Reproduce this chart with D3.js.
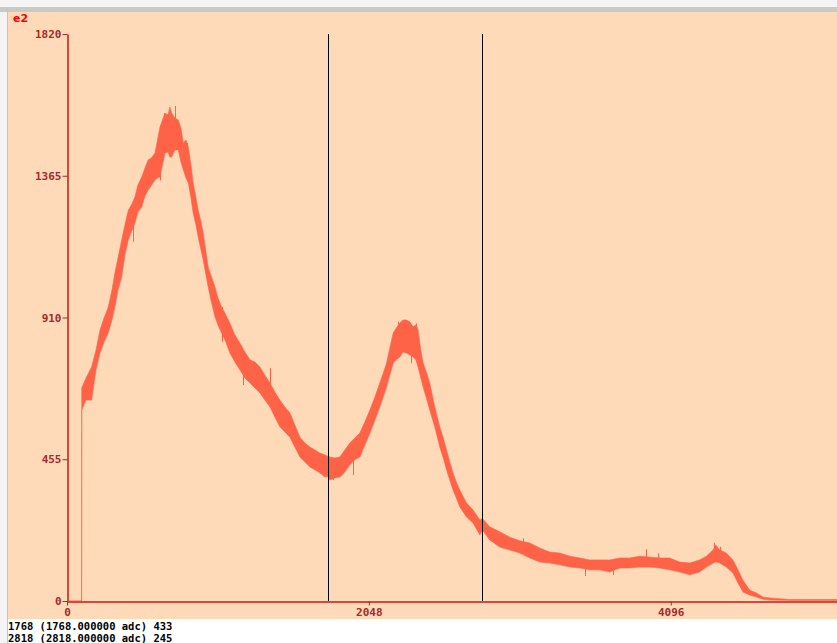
<!DOCTYPE html>
<html>
<head>
<meta charset="utf-8">
<script src="https://cdn.jsdelivr.net/npm/d3@7"></script>
<style>
  body { margin: 0; background: #ffffff; }
  svg { display: block; }
</style>
</head>
<body>
<script>
// Spectrum: ADC channel vs. counts (upper / lower edge of the noisy histogram band)
const bins = [0, 99, 100, 129, 167, 197, 224, 251, 280, 305, 325, 346, 371, 393, 416, 437, 461, 481, 507, 529, 551, 573, 597, 614, 631, 648, 665, 685, 698, 710, 732, 755, 773, 789, 807, 823, 841, 856, 875, 890, 909, 924, 943, 958, 976, 1004, 1024, 1049, 1078, 1105, 1139, 1173, 1207, 1241, 1275, 1309, 1343, 1377, 1410, 1444, 1478, 1512, 1546, 1580, 1614, 1648, 1682, 1716, 1750, 1768, 1783, 1817, 1851, 1885, 1919, 1953, 1987, 2021, 2055, 2089, 2122, 2146, 2168, 2190, 2213, 2234, 2258, 2278, 2303, 2326, 2348, 2367, 2382, 2400, 2416, 2438, 2461, 2495, 2529, 2553, 2575, 2597, 2619, 2641, 2665, 2710, 2755, 2801, 2818, 2868, 2936, 3004, 3072, 3140, 3207, 3275, 3343, 3411, 3479, 3546, 3614, 3682, 3750, 3818, 3886, 3953, 4021, 4089, 4157, 4225, 4292, 4338, 4383, 4401, 4428, 4473, 4518, 4552, 4586, 4631, 4677, 4722, 4767, 4903, 5224];
const countHi = [0, 0, 684, 716, 751, 806, 870, 908, 944, 998, 1053, 1101, 1159, 1207, 1255, 1271, 1297, 1335, 1361, 1390, 1416, 1422, 1438, 1480, 1522, 1544, 1566, 1560, 1586, 1566, 1550, 1544, 1518, 1470, 1480, 1457, 1400, 1342, 1294, 1255, 1217, 1181, 1120, 1072, 1046, 1008, 973, 944, 918, 892, 854, 828, 799, 774, 767, 751, 725, 700, 671, 645, 623, 604, 565, 526, 507, 494, 485, 475, 469, 465, 462, 459, 462, 485, 507, 523, 539, 575, 613, 655, 700, 732, 764, 812, 860, 876, 892, 902, 902, 896, 880, 886, 870, 806, 764, 735, 700, 623, 559, 523, 485, 446, 411, 382, 356, 315, 292, 260, 265, 238, 222, 205, 193, 186, 170, 157, 154, 144, 138, 132, 132, 132, 138, 138, 144, 141, 138, 138, 125, 122, 132, 144, 164, 180, 164, 154, 132, 100, 67, 35, 26, 13, 10, 5, 5];
const countLo = [0, 0, 613, 645, 645, 742, 796, 831, 860, 902, 944, 998, 1040, 1111, 1159, 1185, 1213, 1249, 1265, 1300, 1319, 1335, 1351, 1358, 1361, 1400, 1438, 1441, 1425, 1425, 1448, 1448, 1409, 1384, 1358, 1342, 1294, 1245, 1207, 1168, 1127, 1095, 1046, 1008, 966, 912, 886, 860, 831, 796, 767, 742, 716, 700, 684, 668, 645, 623, 591, 559, 543, 526, 494, 462, 446, 430, 421, 411, 398, 400, 388, 395, 398, 414, 437, 453, 462, 501, 539, 581, 623, 655, 687, 725, 764, 774, 783, 799, 796, 790, 783, 774, 751, 716, 687, 652, 613, 559, 494, 459, 421, 388, 356, 331, 302, 270, 250, 212, 228, 196, 173, 164, 154, 138, 125, 122, 116, 109, 106, 100, 100, 93, 106, 106, 109, 109, 106, 100, 93, 84, 93, 109, 122, 125, 122, 109, 90, 58, 29, 19, 13, 6, 3, 2, 2];

// Single-bin outliers sticking out of the band
const spikeBins = [450, 631, 660, 732, 812, 1049, 1196, 1377, 1806, 1941, 2247, 2337, 2371, 3094, 3513, 3704, 3931, 4010, 4389, 4428];
const spikeHi   = [1260, 1510, 1566, 1589, 1470, 944, 800, 747, 460, 510, 896, 880, 891, 201, 130, 130, 166, 153, 187, 174];
const spikeLo   = [1153, 1350, 1440, 1448, 1378, 832, 693, 650, 388, 404, 790, 763, 790, 160, 80, 83, 115, 110, 130, 125];

// Cursor readouts
const cursorBins = [1768, 2818];
const cursorCounts = [433, 245];

const yTicks = [0, 455, 910, 1365, 1820];
const xTicks = [0, 2048, 4096];
const unitLabel = "e2";

const W = 837, H = 643;
const bg = "#ffdab9", trace = "#ff6347", axisCol = "#d9463a", labelCol = "#a52a2a";
const monoFont = "'DejaVu Sans Mono', 'Liberation Mono', monospace";

const svg = d3.select("body").append("svg")
  .attr("width", W).attr("height", H);

// window frame
svg.append("rect").attr("x", 0).attr("y", 0).attr("width", W).attr("height", H).attr("fill", "#f4f4f4");
svg.append("rect").attr("x", 0).attr("y", 7).attr("width", W).attr("height", 5).attr("fill", "#c9c9c6");
svg.append("rect").attr("x", 7).attr("y", 7).attr("width", 1).attr("height", H - 7).attr("fill", "#c4c4c4");
svg.append("rect").attr("x", 8).attr("y", 12).attr("width", W - 8).attr("height", 607).attr("fill", bg);
svg.append("rect").attr("x", 8).attr("y", 619).attr("width", W - 8).attr("height", H - 619).attr("fill", "#ffffff");

const x = d3.scaleLinear().domain([0, 5224]).range([67, 837]);
const y = d3.scaleLinear().domain([0, 1820]).range([601, 34]);

const data = bins.map((b, i) => ({ b, hi: countHi[i], lo: countLo[i] }));

// noisy histogram band
const area = d3.area()
  .x(d => x(d.b))
  .y0(d => y(d.lo))
  .y1(d => y(d.hi));

svg.append("path")
  .datum(data)
  .attr("d", area)
  .attr("fill", trace)
  .attr("stroke", trace)
  .attr("stroke-width", 1)
  .attr("stroke-opacity", 0.6);

svg.append("g").selectAll("line")
  .data(spikeBins.map((b, i) => ({ b, hi: spikeHi[i], lo: spikeLo[i] })))
  .join("line")
  .attr("x1", d => Math.round(x(d.b)) + 0.5)
  .attr("x2", d => Math.round(x(d.b)) + 0.5)
  .attr("y1", d => y(d.lo))
  .attr("y2", d => y(d.hi))
  .attr("stroke", trace)
  .attr("stroke-width", 1);

// axes
const yAxis = svg.append("g")
  .attr("transform", "translate(67.5,0)")
  .call(d3.axisLeft(y).tickValues(yTicks).tickSize(5).tickSizeOuter(0).tickPadding(1).tickFormat(d3.format("d")));
const xAxis = svg.append("g")
  .attr("transform", "translate(0,601.5)")
  .call(d3.axisBottom(x).tickValues(xTicks).tickSize(4).tickSizeOuter(0).tickPadding(3).tickFormat(d3.format("d")));

[yAxis, xAxis].forEach(g => {
  g.select(".domain").attr("stroke", axisCol).attr("stroke-width", 2);
  g.selectAll(".tick line").attr("stroke", labelCol).attr("stroke-width", 1);
  g.selectAll(".tick text")
    .attr("fill", labelCol)
    .style("font-family", monoFont)
    .style("font-weight", "bold")
    .style("font-size", "11px");
});

// cursors
svg.append("g").selectAll("line")
  .data(cursorBins)
  .join("line")
  .attr("x1", d => Math.round(x(d)) + 0.5)
  .attr("x2", d => Math.round(x(d)) + 0.5)
  .attr("y1", y(1820))
  .attr("y2", y(0))
  .attr("stroke", "#000")
  .attr("stroke-width", 1);

// unit label
svg.append("text")
  .attr("x", 13).attr("y", 22)
  .attr("fill", "#ff0000")
  .style("font-family", "'DejaVu Sans', sans-serif")
  .style("font-weight", "bold")
  .style("font-size", "11px")
  .text(unitLabel);

// cursor readouts
svg.append("g").selectAll("text")
  .data(cursorBins)
  .join("text")
  .attr("x", 8)
  .attr("y", (d, i) => 629.5 + i * 12)
  .attr("fill", "#000")
  .style("font-family", monoFont)
  .style("font-weight", "bold")
  .style("font-size", "10.5px")
  .text((d, i) => `${d} (${d.toFixed(6)} adc) ${cursorCounts[i]}`);
</script>
</body>
</html>
